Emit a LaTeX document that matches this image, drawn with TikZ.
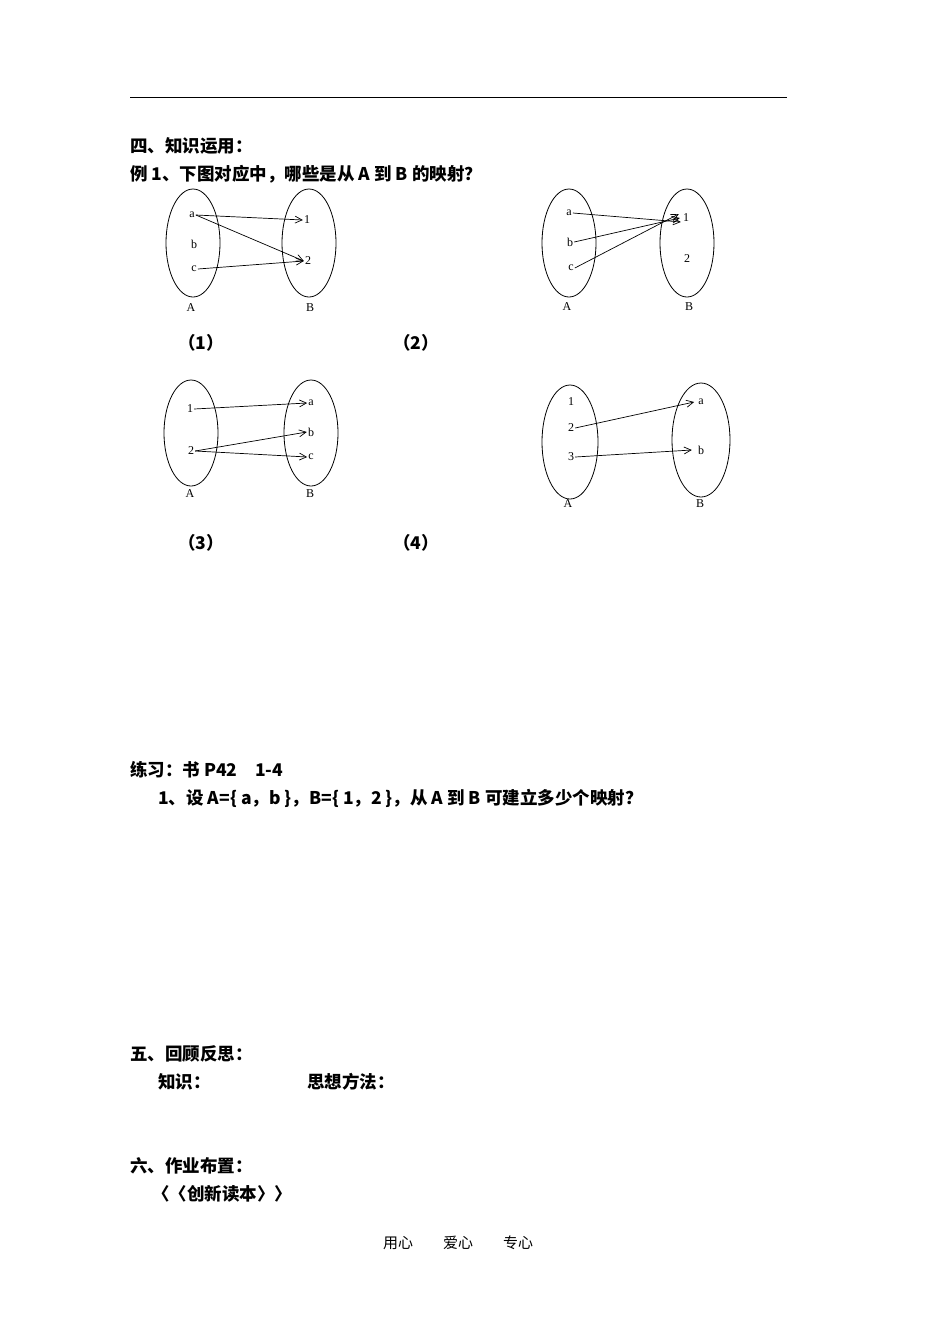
\documentclass[tikz,border=0pt]{standalone}
\usepackage{fontspec}
\setmainfont{Liberation Serif}
\newfontfamily\cjk{Noto Sans CJK SC}
\usetikzlibrary{arrows.meta}
\begin{document}
\begin{tikzpicture}[x=1pt,y=-1pt,
  txt/.style={anchor=west,inner sep=0pt,font=\cjk\bfseries\fontsize{17.5}{20}\selectfont},
  lab/.style={inner sep=1pt,font=\fontsize{12}{14}\selectfont},
  arr/.style={-{Straight Barb[length=7pt,width=7pt]},line width=0.7pt}]
\useasboundingbox (0,0) rectangle (950,1342);
\draw[line width=0.8pt] (130,97) -- (787,97);
\node[txt] (t1) at (130,146) {四、知识运用：};
\node[txt] (t2) at (130,174) {例 1、下图对应中，哪些是从 A 到 B 的映射？};
% diagram 1
\draw[line width=0.8pt] (193,243) ellipse (27 and 54);
\draw[line width=0.8pt] (309,243) ellipse (27 and 54);
\node[lab] (a1) at (192,215) {a};
\node[lab] (b1) at (194,244) {b};
\node[lab] (c1) at (194,269) {c};
\node[lab] (n11) at (307,220) {1};
\node[lab] (n12) at (308,261) {2};
\node[lab] (A1) at (191,308) {A};
\node[lab] (B1) at (310,308) {B};
\draw[arr] (a1.east) -- (n11.west);
\draw[arr] (a1.east) -- (n12.west);
\draw[arr] (c1.east) -- (n12.west);
% diagram 2
\draw[line width=0.8pt] (569,243) ellipse (27 and 54);
\draw[line width=0.8pt] (687,243) ellipse (27 and 54);
\node[lab] (a2) at (569,213) {a};
\node[lab] (b2) at (570,242) {b};
\node[lab] (c2) at (571,268) {c};
\node[lab] (n21) at (686,218) {1};
\node[lab] (n22) at (687,259) {2};
\node[lab] (A2) at (567,307) {A};
\node[lab] (B2) at (689,307) {B};
\draw[arr] (a2.east) -- ([xshift=-1pt,yshift=-4pt]n21.west);
\draw[arr] (b2.east) -- ([xshift=-2pt]n21.west);
\draw[arr] (c2.east) -- ([xshift=-3pt,yshift=4pt]n21.west);
\node[txt] (p1) at (178,343) {（1）};
\node[txt] (p2) at (393,343) {（2）};
% diagram 3
\draw[line width=0.8pt] (191,433) ellipse (27 and 53);
\draw[line width=0.8pt] (311,433) ellipse (27 and 53);
\node[lab] (x31) at (190,409) {1};
\node[lab] (x32) at (191,451) {2};
\node[lab] (a3) at (311,403) {a};
\node[lab] (b3) at (311,432) {b};
\node[lab] (c3) at (311,457) {c};
\node[lab] (A3) at (190,494) {A};
\node[lab] (B3) at (310,494) {B};
\draw[arr] (x31.east) -- (a3.west);
\draw[arr] (x32.east) -- (b3.west);
\draw[arr] (x32.east) -- (c3.west);
% diagram 4
\draw[line width=0.8pt] (570,442) ellipse (28 and 57);
\draw[line width=0.8pt] (701,440) ellipse (29 and 57);
\node[lab] (x41) at (571,402) {1};
\node[lab] (x42) at (571,428) {2};
\node[lab] (x43) at (571,457) {3};
\node[lab] (a4) at (701,402) {a};
\node[lab] (b4) at (701,450) {b};
\node[lab] (A4) at (568,504) {A};
\node[lab] (B4) at (700,504) {B};
\draw[arr] (x42.east) -- ([xshift=-3pt]a4.west);
\draw[arr] (x43.east) -- ([xshift=-5pt]b4.west);
\node[txt] (p3) at (178,543) {（3）};
\node[txt] (p4) at (393,543) {（4）};
\node[txt] (t3) at (130,770) {练习：书 P42\quad 1-4};
\node[txt] (t4) at (158,798) {1、设 A=\{ a，b \}，B=\{ 1，2 \}，从 A 到 B 可建立多少个映射？};
\node[txt] (t5) at (130,1054) {五、回顾反思：};
\node[txt] (t6) at (158,1082) {知识：};
\node[txt] (t7) at (307,1082) {思想方法：};
\node[txt] (t8) at (130,1166) {六、作业布置：};
\node[txt] (t9) at (152,1194) {〈〈创新读本〉〉};
\node[inner sep=0pt,font=\cjk\fontsize{15}{17}\selectfont] (f) at (458,1243) {用心\hspace{2em}爱心\hspace{2em}专心};
\end{tikzpicture}
\end{document}
